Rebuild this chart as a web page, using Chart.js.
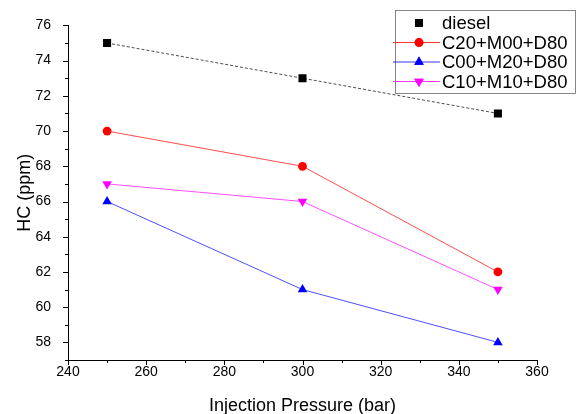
<!DOCTYPE html>
<html>
<head>
<meta charset="utf-8">
<script src="https://cdn.jsdelivr.net/npm/chart.js@4"></script>
<style>
  html, body { margin: 0; padding: 0; background: #fff; }
  #wrap { width: 579px; height: 414px; }
</style>
</head>
<body>
<div id="wrap"><canvas id="hc"></canvas></div>
<script>
// ─── Datos ───────────────────────────────────────────
const pressures = [250, 300, 350];
const seriesNames = ['diesel', 'C20+M00+D80', 'C00+M20+D80', 'C10+M10+D80'];
const diesel = [75, 73, 71];
const c20m00 = [70, 68, 62];
const c00m20 = [66, 61, 58];
const c10m10 = [67, 66, 61];
const xTicks = [240, 260, 280, 300, 320, 340, 360];
const yTicks = [58, 60, 62, 64, 66, 68, 70, 72, 74, 76];

const FONT = "'Liberation Sans', Arial, sans-serif";

const toPts = (vals) => vals.map((v, i) => ({ x: pressures[i], y: v }));

const styles = [
  { color: '#000000', point: 'rect', radius: 5.7, dash: [3, 2], legendLine: false },
  { color: '#ff0000', point: 'circle', radius: 4.4, dash: [], legendLine: true },
  { color: '#0000ff', point: 'triangle', radius: 5.5, dash: [], legendLine: true },
  { color: '#ff00ff', point: 'triangle', radius: 5.5, rot: 180, dash: [], legendLine: true },
];

const allSeries = [diesel, c20m00, c00m20, c10m10];
const datasets = allSeries.map((vals, i) => ({
  label: seriesNames[i],
  data: toPts(vals),
  borderColor: styles[i].color,
  backgroundColor: styles[i].color,
  borderWidth: 0.7,
  borderDash: styles[i].dash,
  pointStyle: styles[i].point,
  pointRotation: styles[i].rot || 0,
  pointRadius: styles[i].radius,
  pointBorderWidth: 0,
  tension: 0,
}));

// ─── Ticks menores y leyenda a mano ──────────────────
const axisDecor = {
  id: 'axisDecor',
  afterDraw(chart) {
    const { ctx, chartArea: a, scales: { x, y } } = chart;
    ctx.save();
    ctx.strokeStyle = '#000';
    ctx.lineWidth = 1;
    ctx.beginPath();
    for (let v = 240; v <= 360; v += 10) {
      const px = Math.round(x.getPixelForValue(v)) + 0.5;
      const len = v % 20 === 0 ? 5 : 3;
      ctx.moveTo(px, a.bottom);
      ctx.lineTo(px, a.bottom + len);
    }
    for (let v = 57; v <= 76; v += 1) {
      const py = Math.round(y.getPixelForValue(v)) + 0.5;
      const len = v % 2 === 0 ? 5 : 3;
      ctx.moveTo(a.left, py);
      ctx.lineTo(a.left - len, py);
    }
    ctx.stroke();

    // leyenda
    const bx = 395, by = 10, bw = 180, bh = 83;
    ctx.fillStyle = '#fff';
    ctx.fillRect(bx, by, bw, bh);
    ctx.strokeStyle = '#666';
    ctx.lineWidth = 0.8;
    ctx.strokeRect(bx + 0.5, by + 0.5, bw, bh);
    ctx.font = '18.5px ' + FONT;
    ctx.textBaseline = 'middle';
    chart.data.datasets.forEach((ds, i) => {
      const cy = by + 13 + i * 19.5;
      const st = styles[i];
      if (st.legendLine) {
        ctx.strokeStyle = st.color;
        ctx.lineWidth = 0.8;
        ctx.beginPath();
        ctx.moveTo(bx - 2, cy);
        ctx.lineTo(bx + 45, cy);
        ctx.stroke();
      }
      ctx.fillStyle = st.color;
      Chart.helpers.drawPoint(ctx, {
        pointStyle: st.point, radius: st.radius, rotation: st.rot || 0, borderWidth: 0,
      }, bx + 24, cy);
      ctx.fill();
      ctx.fillStyle = '#000';
      ctx.fillText(ds.label, bx + 47, cy + 1);
    });
    ctx.restore();
  },
};

new Chart(document.getElementById('hc'), {
  type: 'line',
  data: { datasets },
  plugins: [axisDecor],
  options: {
    responsive: true,
    maintainAspectRatio: false,
    animation: false,
    layout: { padding: { top: 25, right: 42, bottom: 0, left: 0 } },
    plugins: { legend: { display: false }, tooltip: { enabled: false } },
    scales: {
      x: {
        type: 'linear',
        min: 240,
        max: 360,
        afterBuildTicks: (s) => { s.ticks = xTicks.map((v) => ({ value: v })); },
        afterFit: (s) => { s.height = 54; },
        grid: { display: false, drawTicks: false },
        border: { display: true, color: '#000', width: 1 },
        ticks: { color: '#000', font: { family: FONT, size: 14 }, padding: 4, maxRotation: 0 },
        title: { display: true, text: 'Injection Pressure (bar)', color: '#000', font: { family: FONT, size: 18 }, padding: { top: 0, bottom: -3 } },
      },
      y: {
        min: 57,
        max: 76,
        afterBuildTicks: (s) => { s.ticks = yTicks.map((v) => ({ value: v })); },
        afterFit: (s) => { s.width = 68; },
        grid: { display: false, drawTicks: false },
        border: { display: true, color: '#000', width: 1 },
        ticks: { color: '#000', font: { family: FONT, size: 14 }, padding: 17 },
        title: { display: true, text: 'HC (ppm)', color: '#000', font: { family: FONT, size: 18 }, padding: { top: 14, bottom: 0 } },
      },
    },
  },
});
</script>
</body>
</html>
